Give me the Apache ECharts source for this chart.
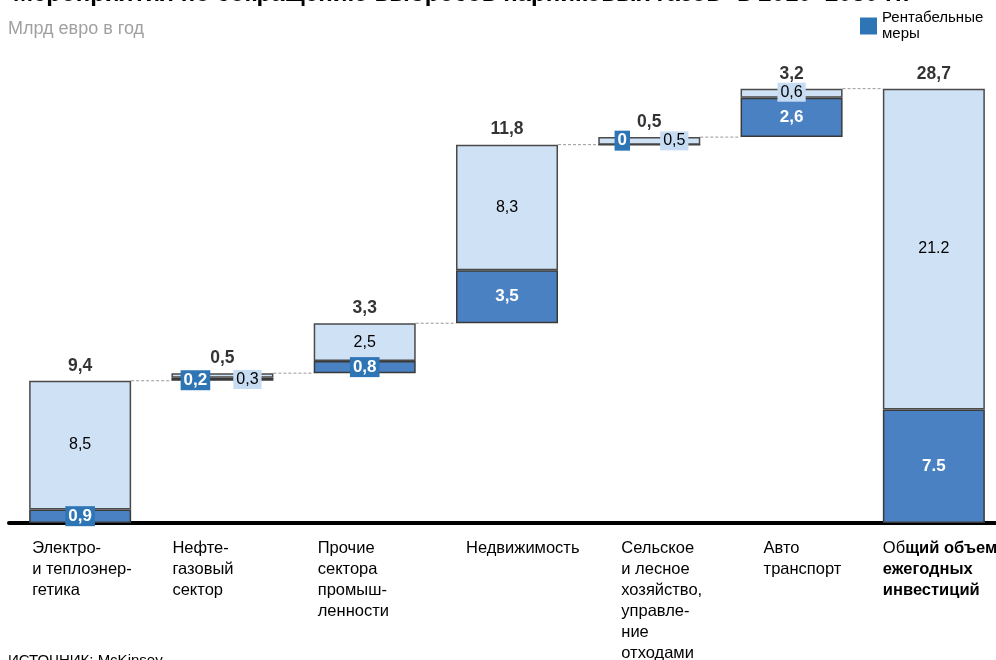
<!DOCTYPE html>
<html>
<head>
<meta charset="utf-8">
<script src="https://cdn.jsdelivr.net/npm/echarts@6/dist/echarts.min.js"></script>
<style>
  html, body { margin: 0; padding: 0; background: #fff; }
  #chart { width: 996px; height: 660px; }
</style>
</head>
<body>
<div id="chart"></div>
<script>
// данные
const categories = [
  'Электро-\nи теплоэнер-\nгетика',
  'Нефте-\nгазовый\nсектор',
  'Прочие\nсектора\nпромыш-\nленности',
  'Недвижимость',
  'Сельское\nи лесное\nхозяйство,\nуправле-\nние\nотходами',
  'Авто\nтранспорт',
  'Общий объем\nежегодных\nинвестиций'
]
const profitable = [0.9, 0.2, 0.8, 3.5, 0, 2.6, 7.5]
const other = [8.5, 0.3, 2.5, 8.3, 0.5, 0.6, 21.2]
const totals = [9.4, 0.5, 3.3, 11.8, 0.5, 3.2, 28.7]

// сдвиг подписей категорий вправо (px, удвоенный)
const labelPad = [6, 2, 8, 20, 46, 46, 0]

const FONT = '"Liberation Sans", Arial, sans-serif'
const DARK = '#4a81c3'
const DARK_BOX = '#2e75b6'
const LIGHT = '#cfe1f4'
const LIGHT_BOX = '#c6dcf2'
const BAR_W = 102

const last = totals.length - 1

// основание водопада
const base = []
let acc = 0
totals.forEach((t, i) => {
  if (i === last) { base.push(0); return }
  base.push(acc)
  acc += t
})

const fmt = (v, i) => {
  if (v === 0) return '0'
  const s = v.toFixed(1)
  return i === last ? s : s.replace('.', ',')
}

const small = v => v < 1

const darkData = profitable.map((v, i) => {
  const side = small(v) && small(other[i])
  const item = { value: v }
  if (small(v)) {
    item.label = {
      show: true,
      position: 'inside',
      color: '#fff',
      fontWeight: 'bold',
      fontSize: 17,
      backgroundColor: DARK_BOX,
      padding: [2, 3, 1, 3],
      offset: side ? [-27, v === 0 ? -4 : 1] : [0, 0]
    }
  } else {
    item.label = { show: true, position: 'inside', color: '#fff', fontWeight: 'bold', fontSize: 17 }
  }
  return item
})

const lightData = other.map((v, i) => {
  const side = small(v) && small(profitable[i])
  const item = { value: v }
  if (small(v)) {
    item.label = {
      show: true,
      position: 'inside',
      color: '#000',
      fontSize: 16,
      backgroundColor: LIGHT_BOX,
      padding: [2, 3, 1, 3],
      offset: side ? [25, i === 1 ? 4 : 0] : [0, -1]
    }
  } else {
    item.label = { show: true, position: 'inside', color: '#000', fontSize: 16 }
  }
  return item
})

// уровни соединительных линий
const connectors = []
for (let i = 0; i < last; i++) connectors.push([i, base[i] + totals[i]])

const topPoints = totals.map((t, i) => [i, base[i] + t])

const chart = echarts.init(document.getElementById('chart'))

const option = {
  animation: false,
  textStyle: { fontFamily: FONT },
  title: [
    {
      text: 'Мероприятия по сокращению выбросов парниковых газов* в 2010–2030 гг.',
      left: 8, top: -23,
      textStyle: { fontSize: 24, fontWeight: 'bold', color: '#000', fontFamily: FONT }
    },
    {
      text: 'Млрд евро в год',
      left: 8, top: 20, padding: 0,
      textStyle: { fontSize: 18, fontWeight: 'normal', color: '#a0a0a0', fontFamily: FONT }
    },
    {
      text: 'ИСТОЧНИК: McKinsey',
      left: 8, top: 653, padding: 0,
      textStyle: { fontSize: 15, fontWeight: 'normal', color: '#000', fontFamily: FONT }
    }
  ],
  legend: {
    data: ['Рентабельные\nмеры'],
    left: 855, top: 5,
    icon: 'rect',
    itemWidth: 17, itemHeight: 17, itemGap: 9,
    itemStyle: { borderWidth: 0, color: DARK_BOX },
    textStyle: { fontSize: 15, lineHeight: 16, color: '#000', fontFamily: FONT }
  },
  grid: { left: 9, top: 69, width: 996, height: 454, outerBoundsMode: 'none', containLabel: false },
  xAxis: {
    type: 'category',
    data: categories.map((c, i) => ({ value: c, textStyle: { padding: [0, 0, 0, labelPad[i]] } })),
    axisLine: { show: true, lineStyle: { color: '#000', width: 4 } },
    axisTick: { show: false },
    axisLabel: {
      interval: 0,
      margin: 15,
      width: BAR_W,
      color: '#000',
      fontSize: 16.5,
      lineHeight: 21,
      formatter: (val, i) => {
        const lines = val.split('\n')
        if (i === last) {
          return lines.map((l, k) => k === 0 ? '{n|' + l.slice(0, 2) + '}{b|' + l.slice(2) + '}' : '{b|' + l + '}').join('\n')
        }
        return lines.map(l => '{n|' + l + '}').join('\n')
      },
      rich: {
        n: { align: 'left', fontSize: 16.5, lineHeight: 21, color: '#000', fontFamily: FONT },
        b: { align: 'left', fontSize: 16.5, lineHeight: 21, color: '#000', fontWeight: 'bold', fontFamily: FONT }
      }
    }
  },
  yAxis: { type: 'value', min: 0, max: 30, show: false, splitLine: { show: false } },
  series: [
    {
      type: 'bar', stack: 'w', barWidth: BAR_W, silent: true,
      itemStyle: { color: 'transparent' },
      data: base
    },
    {
      name: 'Рентабельные\nмеры',
      type: 'bar', stack: 'w', barWidth: BAR_W,
      itemStyle: { color: DARK, borderColor: '#3a3a3a', borderWidth: 1.5 },
      label: { formatter: p => fmt(p.value, p.dataIndex) },
      data: darkData
    },
    {
      name: 'Прочие',
      type: 'bar', stack: 'w', barWidth: BAR_W,
      itemStyle: { color: LIGHT, borderColor: '#4a4a4a', borderWidth: 1.5 },
      label: { formatter: p => fmt(p.value, p.dataIndex) },
      data: lightData
    },
    {
      type: 'custom',
      silent: true,
      z: 1,
      renderItem: (params, api) => {
        const p = api.coord([api.value(0), api.value(1)])
        const q = api.coord([api.value(0) + 1, api.value(1)])
        return {
          type: 'line',
          shape: { x1: p[0] + BAR_W / 2, y1: p[1], x2: q[0] - BAR_W / 2, y2: p[1] },
          style: { stroke: '#999', lineWidth: 1, lineDash: [3, 2] }
        }
      },
      data: connectors
    },
    {
      type: 'scatter',
      symbolSize: 0,
      silent: true,
      label: {
        show: true,
        position: 'top',
        distance: 6,
        color: '#000',
        fontSize: 17.5,
        fontWeight: 'bold',
        formatter: p => fmt(totals[p.dataIndex], 0)
      },
      data: topPoints
    }
  ]
}

chart.setOption(option)
</script>
</body>
</html>
